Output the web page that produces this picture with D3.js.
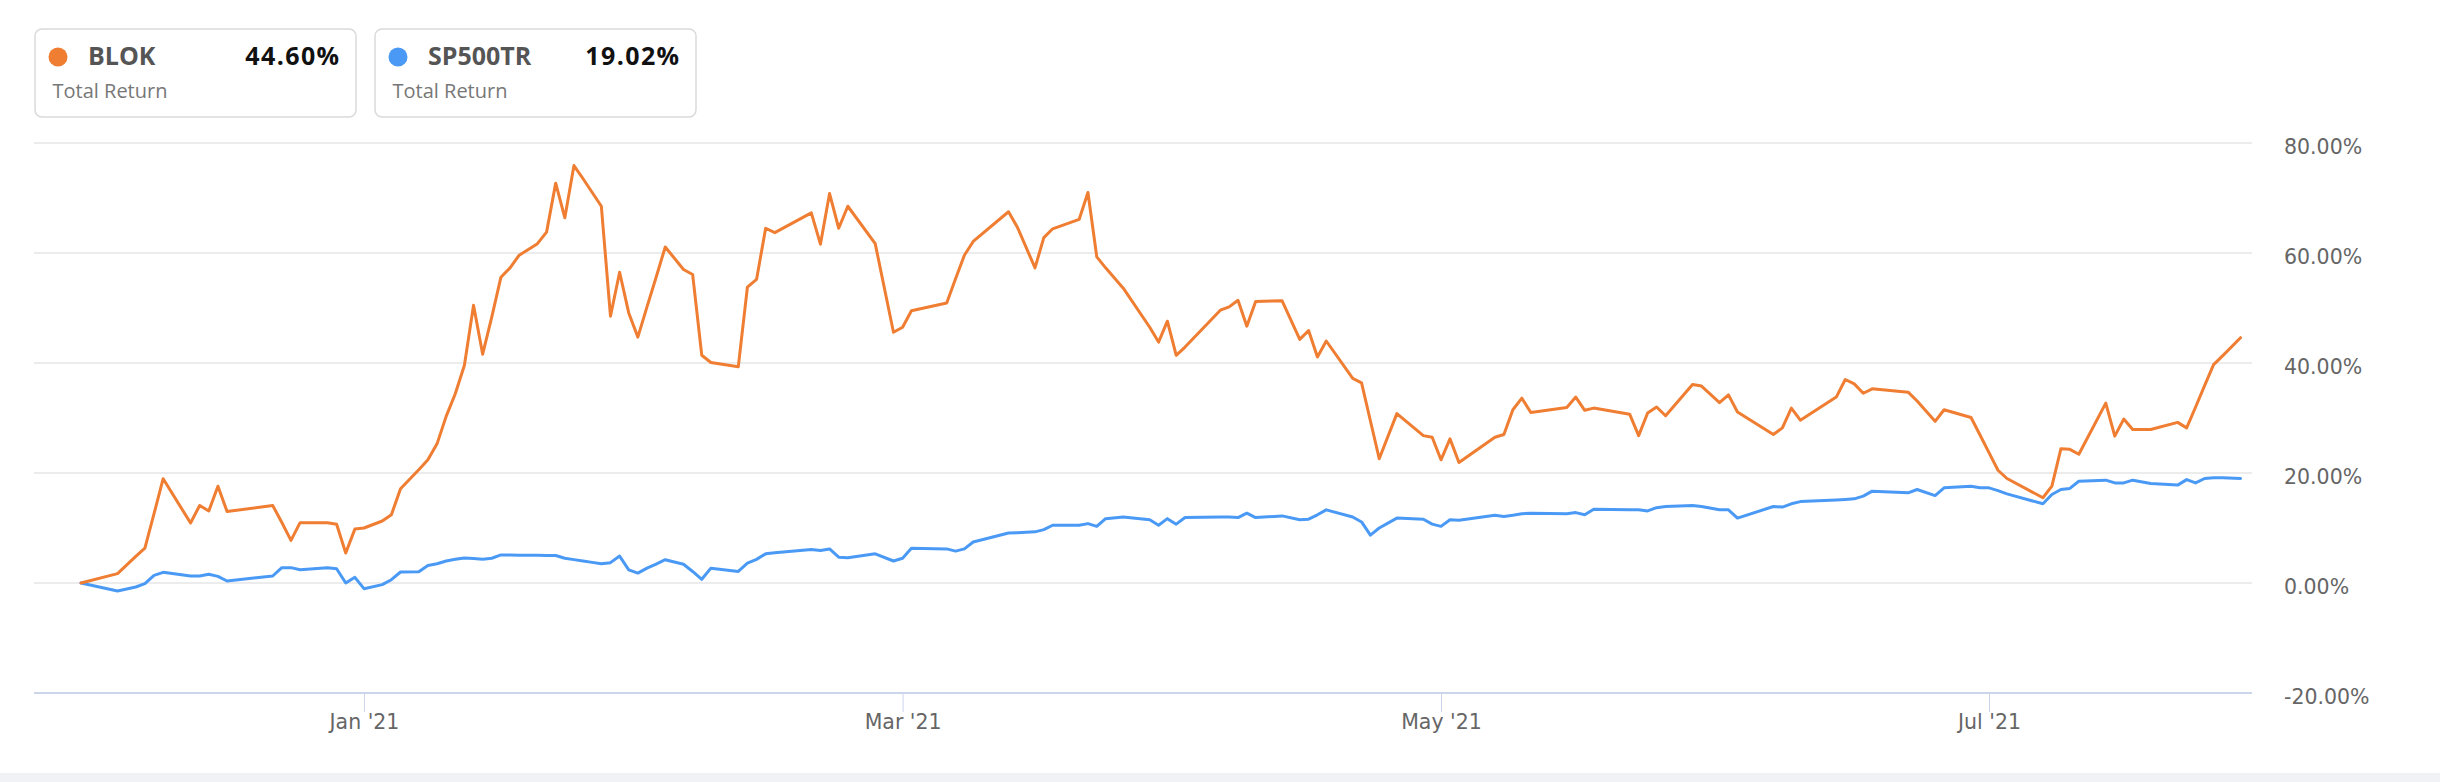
<!DOCTYPE html>
<html><head><meta charset="utf-8">
<script src="https://cdn.jsdelivr.net/npm/d3@7"></script>
<style>html,body{margin:0;padding:0;background:#fff;} svg{display:block;}</style>
</head><body><svg id="chart" width="2440" height="782"></svg>
<script>
// ---- data ----
const dates = [
"2020-12-01","2020-12-05","2020-12-07","2020-12-08","2020-12-09","2020-12-10","2020-12-13","2020-12-14","2020-12-15","2020-12-16",
"2020-12-17","2020-12-22","2020-12-23","2020-12-24","2020-12-25","2020-12-28","2020-12-29","2020-12-30","2020-12-31","2021-01-01",
"2021-01-03","2021-01-04","2021-01-05","2021-01-07","2021-01-08","2021-01-09","2021-01-10","2021-01-11","2021-01-12","2021-01-13",
"2021-01-14","2021-01-15","2021-01-16","2021-01-17","2021-01-18","2021-01-20","2021-01-21","2021-01-22","2021-01-23","2021-01-24",
"2021-01-25","2021-01-26","2021-01-27","2021-01-28","2021-01-29","2021-01-30","2021-01-31","2021-02-01","2021-02-02","2021-02-03",
"2021-02-05","2021-02-06","2021-02-07","2021-02-08","2021-02-11","2021-02-12","2021-02-13","2021-02-14","2021-02-15","2021-02-19",
"2021-02-20","2021-02-21","2021-02-22","2021-02-23","2021-02-26","2021-02-28","2021-03-01","2021-03-02","2021-03-06","2021-03-07",
"2021-03-08","2021-03-09","2021-03-13","2021-03-14","2021-03-16","2021-03-17","2021-03-18","2021-03-21","2021-03-22","2021-03-23",
"2021-03-24","2021-03-26","2021-03-29","2021-03-30","2021-03-31","2021-04-01","2021-04-02","2021-04-06","2021-04-07","2021-04-08",
"2021-04-09","2021-04-10","2021-04-13","2021-04-15","2021-04-16","2021-04-17","2021-04-18","2021-04-21","2021-04-22","2021-04-23",
"2021-04-24","2021-04-26","2021-04-29","2021-04-30","2021-05-01","2021-05-02","2021-05-03","2021-05-07","2021-05-08","2021-05-09",
"2021-05-10","2021-05-11","2021-05-15","2021-05-16","2021-05-17","2021-05-18","2021-05-22","2021-05-23","2021-05-24","2021-05-25",
"2021-05-26","2021-05-29","2021-05-30","2021-06-01","2021-06-02","2021-06-03","2021-06-07","2021-06-08","2021-06-09","2021-06-10",
"2021-06-14","2021-06-15","2021-06-16","2021-06-17","2021-06-18","2021-06-22","2021-06-23","2021-06-25","2021-06-26","2021-06-29",
"2021-06-30","2021-07-01","2021-07-02","2021-07-03","2021-07-07","2021-07-08","2021-07-09","2021-07-10","2021-07-11","2021-07-14",
"2021-07-15","2021-07-16","2021-07-17","2021-07-19","2021-07-22","2021-07-23","2021-07-24","2021-07-25","2021-07-26","2021-07-27",
"2021-07-29"];

const blok = [
0,1.7,4.85,6.36,12.6,18.97,10.9,14.1,13.1,17.6,
13.0,14.1,11.0,7.76,10.97,10.97,10.67,5.45,9.8,10.0,
11.27,12.4,17.15,20.6,22.4,25.3,30.3,34.4,39.6,50.5,
41.6,48.4,55.6,57.3,59.6,61.7,63.8,72.7,66.4,75.9,
73.5,71.0,68.5,48.5,56.5,49.1,44.7,50.2,55.6,61.1,
57.0,56.1,41.4,40.1,39.3,53.8,55.2,64.5,63.7,67.3,
61.6,70.8,64.5,68.5,61.7,45.6,46.5,49.5,50.9,55.3,
59.6,62.1,67.5,64.7,57.3,62.8,64.4,66.1,71.0,59.3,
57.3,53.6,46.5,43.8,47.6,41.4,42.9,49.6,50.2,51.4,
46.7,51.2,51.3,44.3,45.9,41.1,44.0,37.2,36.4,29.5,
22.6,30.8,26.8,26.5,22.4,26.2,21.9,26.5,27.0,31.5,
33.6,31.0,31.9,33.8,31.4,31.8,30.7,26.8,30.9,32.0,
30.4,36.1,35.8,32.8,34.2,31.1,27.0,28.2,31.8,29.6,
33.8,37.0,36.2,34.5,35.3,34.7,33.1,29.4,31.5,30.1,
26.9,23.7,20.5,19.0,15.5,17.6,24.4,24.3,23.4,32.7,
26.7,29.8,27.9,27.9,29.2,28.2,32.0,35.9,39.7,41.3,
44.6];

const sp500tr = [
0,-1.45,-0.73,-0.12,1.39,1.94,1.27,1.27,1.58,1.21,
0.36,1.27,2.79,2.79,2.42,2.79,2.6,0.0,1.03,-1.03,
-0.3,0.6,2.0,2.06,3.2,3.5,4.0,4.3,4.55,4.45,
4.3,4.5,5.1,5.1,5.05,5.05,5.0,5.0,4.5,4.25,
4.0,3.75,3.5,3.7,4.9,2.4,1.8,2.7,3.45,4.24,
3.4,2.1,0.67,2.7,2.1,3.6,4.3,5.3,5.5,6.1,
5.9,6.2,4.7,4.6,5.3,4.0,4.5,6.3,6.2,5.8,
6.2,7.45,9.1,9.15,9.3,9.7,10.5,10.5,10.8,10.3,
11.7,12.0,11.5,10.5,11.7,10.7,11.9,12.0,12.0,11.9,
12.7,11.9,12.2,11.5,11.6,12.4,13.3,12.0,11.1,8.7,
10.0,11.8,11.6,10.7,10.3,11.5,11.4,12.3,12.1,12.3,
12.6,12.7,12.6,12.8,12.4,13.4,13.3,13.3,13.1,13.7,
13.9,14.1,13.9,13.3,13.3,11.8,13.9,13.8,14.4,14.8,
15.1,15.2,15.3,15.8,16.7,16.4,17.0,15.9,17.3,17.6,
17.3,17.3,16.8,16.2,14.4,16.1,17.0,17.2,18.5,18.7,
18.2,18.2,18.7,18.1,17.8,18.8,18.2,19.0,19.15,19.15,
19.02];

const seriesNames = ["BLOK", "SP500TR"];
const totalReturns = [44.60, 19.02];
const seriesColors = ["#ef7d32", "#4a9af5"];
const yTickValues = [-20, 0, 20, 40, 60, 80];
const xTickDates = ["2021-01-01", "2021-03-01", "2021-05-01", "2021-07-01"];

// ---- drawing ----
const parse = d3.utcParse("%Y-%m-%d");
const svg = d3.select("#chart");
const plotLeft = 34, plotRight = 2252, plotTop = 143, plotBottom = 693;

// time scale anchored at the tick dates (layout positions of the ticks)
const x = d3.scaleUtc()
  .domain(xTickDates.map(parse))
  .range([364, 902.6, 1441, 1989]);
const y = d3.scaleLinear().domain([-20, 80]).range([plotBottom, plotTop]);

// bottom band
svg.append("rect").attr("x", 0).attr("y", 773).attr("width", 2440).attr("height", 9).attr("fill", "#f1f2f6");

// gridlines
svg.append("g").selectAll("line").data(yTickValues.filter(v => v !== -20)).join("line")
  .attr("x1", plotLeft).attr("x2", plotRight)
  .attr("y1", d => y(d)).attr("y2", d => y(d))
  .attr("stroke", "#e6e6e6").attr("stroke-width", 1.5);

// x axis line
svg.append("line").attr("x1", plotLeft).attr("x2", plotRight)
  .attr("y1", y(-20)).attr("y2", y(-20))
  .attr("stroke", "#ccd6eb").attr("stroke-width", 2);

// x axis ticks + labels
const xAxis = d3.axisBottom(x)
  .tickValues(xTickDates.map(parse))
  .tickFormat(d3.utcFormat("%b '%y"))
  .tickSize(19).tickPadding(2.5);
const gx = svg.append("g").attr("transform", `translate(0,${plotBottom})`).call(xAxis);
gx.select(".domain").remove();
gx.selectAll(".tick line").attr("stroke", "#ccd6eb").attr("stroke-width", 1);
gx.selectAll(".tick text").attr("fill", "#666").attr("font-family", "DejaVu Sans")
  .attr("font-size", "20.5px");

// y axis labels
const yAxis = d3.axisRight(y).tickValues(yTickValues).tickSize(0).tickPadding(0)
  .tickFormat(d => (d < 0 ? "-" : "") + Math.abs(d).toFixed(2) + "%");
const gy = svg.append("g").attr("transform", `translate(2284,0)`).call(yAxis);
gy.select(".domain").remove();
gy.selectAll(".tick text").attr("fill", "#666").attr("font-family", "DejaVu Sans")
  .attr("font-size", "20.5px").attr("dy", "10.5px");

// lines
const rows = dates.map((d, i) => ({date: parse(d), v: [blok[i], sp500tr[i]]}));
[1, 0].forEach(si => {
  const line = d3.line().x(d => x(d.date)).y(d => y(d.v[si]));
  svg.append("path").datum(rows)
    .attr("fill", "none").attr("stroke", seriesColors[si]).attr("stroke-width", 3)
    .attr("stroke-linejoin", "round").attr("stroke-linecap", "round")
    .attr("d", line);
});

// legend boxes
const legend = svg.append("g").selectAll("g").data(seriesNames).join("g")
  .attr("transform", (d, i) => `translate(${35 + i * 340},29)`);
legend.append("rect").attr("x", 0).attr("y", 0).attr("width", 321).attr("height", 88)
  .attr("rx", 7).attr("fill", "#fff").attr("stroke", "#dadada").attr("stroke-width", 1.5);
legend.append("circle").attr("cx", 23).attr("cy", 28).attr("r", 9.5)
  .attr("fill", (d, i) => seriesColors[i]);
legend.append("text").attr("x", 53).attr("y", 36).text(d => d)
  .attr("font-family", "Open Sans").attr("font-weight", "bold").attr("font-size", "25px").attr("fill", "#555");
legend.append("text").attr("x", 305.5).attr("y", 36).attr("text-anchor", "end")
  .text((d, i) => totalReturns[i].toFixed(2) + "%")
  .attr("font-family", "Open Sans").attr("font-weight", "bold").attr("font-size", "25px")
  .attr("letter-spacing", "1.4px").attr("fill", "#111");
legend.append("text").attr("x", 17.5).attr("y", 68.5).text("Total Return")
  .attr("font-family", "Open Sans").attr("font-size", "20px").attr("fill", "#777");
</script>
</body></html>
